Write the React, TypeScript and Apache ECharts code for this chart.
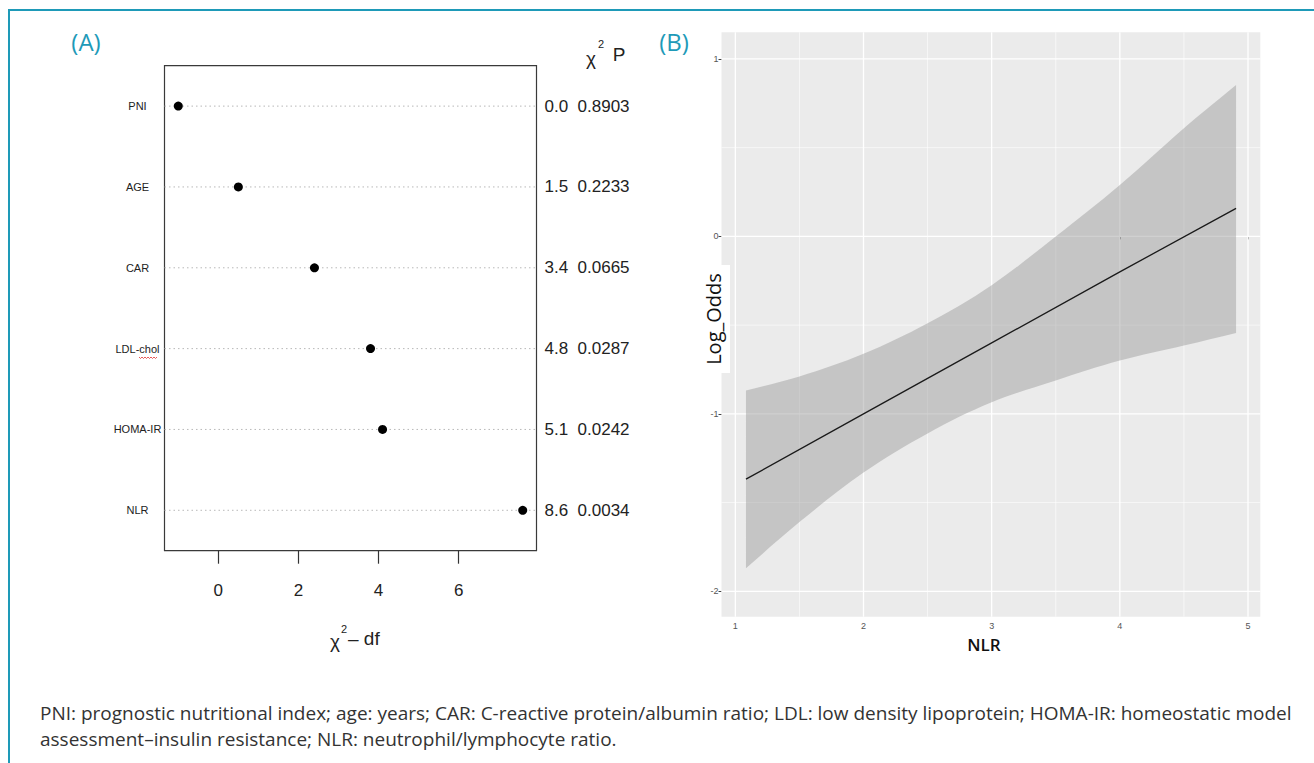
import React, { useEffect, useRef } from "react";
import * as echarts from "echarts";

// ---------- Panel A data ----------
const variables = ["PNI", "AGE", "CAR", "LDL-chol", "HOMA-IR", "NLR"];
const chiSqMinusDf = [-1.0, 0.5, 2.4, 3.8, 4.1, 7.6];
const chiSqLabels = ["0.0", "1.5", "3.4", "4.8", "5.1", "8.6"];
const pLabels = ["0.8903", "0.2233", "0.0665", "0.0287", "0.0242", "0.0034"];
const dotTicks = [0, 2, 4, 6];

// ---------- Panel B data ----------
const nlrLine = [
  [1.083, -1.368],
  [2, -1.0],
  [3, -0.6],
  [4, -0.2],
  [4.907, 0.158],
];
const bandX = [1.083, 1.5, 2, 2.5, 3, 3.5, 4, 4.5, 4.907];
const bandUpper = [-0.869, -0.79, -0.662, -0.49, -0.275, 0.0, 0.29, 0.61, 0.853];
const bandLower = [-1.87, -1.61, -1.331, -1.11, -0.935, -0.812, -0.7, -0.615, -0.544];
const nlrTicks = [1, 2, 3, 4, 5];
const nlrMinor = [1.5, 2.5, 3.5, 4.5];
const logOddsTicks = [-2, -1, 0, 1];
const logOddsMinor = [-1.5, -0.5, 0.5];

const footnote1 =
  "PNI: prognostic nutritional index; age: years; CAR: C-reactive protein/albumin ratio; LDL: low density lipoprotein; HOMA-IR: homeostatic model";
const footnote2 = "assessment–insulin resistance; NLR: neutrophil/lymphocyte ratio.";

const RFONT = "'Liberation Sans', Arial, Helvetica, sans-serif";
const SANS = "'Open Sans', 'Noto Sans', sans-serif";
const TEAL = "#1e9ab8";

export default function App() {
  const ref = useRef<HTMLDivElement>(null);

  useEffect(() => {
    if (!ref.current) return;
    const chart = echarts.init(ref.current, undefined, { renderer: "svg" });

    const aMin = -1.344;
    const aMax = 7.944;

    const vGrid = [
      ...nlrTicks.map((v) => [v, 0, 1]),
      ...nlrMinor.map((v) => [v, 0, 0]),
    ];
    const hGrid = [
      ...logOddsTicks.map((v) => [1, v, 1]),
      ...logOddsMinor.map((v) => [1, v, 0]),
    ];

    const squiggle: number[][] = [];
    for (let i = 0; i <= 12; i++) squiggle.push([139 + i * 1.5, 357 + (i % 2 === 0 ? 0 : 1.5)]);

    const option: any = {
      animation: false,
      backgroundColor: "#ffffff",
      grid: [
        { left: 164.5, top: 65.7, width: 372, height: 485, show: true, borderColor: "#3a3a3a", borderWidth: 1.2, backgroundColor: "transparent" },
        { left: 721.5, top: 32.3, width: 538.8, height: 584.4, show: true, borderWidth: 0, backgroundColor: "#ebebeb" },
      ],
      xAxis: [
        {
          type: "value",
          gridIndex: 0,
          min: aMin,
          max: aMax,
          axisLine: { show: false },
          axisTick: { show: true, customValues: dotTicks, length: 13, lineStyle: { color: "#333", width: 1.2 } },
          axisLabel: { show: true, customValues: dotTicks, margin: 31, fontFamily: RFONT, fontSize: 17, color: "#222" },
          splitLine: { show: false },
        },
        {
          type: "value",
          gridIndex: 1,
          min: 0.892,
          max: 5.096,
          axisLine: { show: false },
          axisTick: { show: true, customValues: nlrTicks, length: 3, lineStyle: { color: "#444", width: 1 } },
          axisLabel: { show: true, customValues: nlrTicks, margin: 5, fontFamily: RFONT, fontSize: 9, color: "#555" },
          splitLine: { show: false },
        },
      ],
      yAxis: [
        {
          type: "category",
          gridIndex: 0,
          data: variables,
          inverse: true,
          boundaryGap: true,
          axisLine: { show: false },
          axisTick: { show: false },
          axisLabel: { show: true, align: "center", margin: 27, fontFamily: RFONT, fontSize: 11, color: "#222" },
          splitLine: { show: false },
        },
        {
          type: "category",
          gridIndex: 0,
          position: "right",
          data: variables,
          inverse: true,
          boundaryGap: true,
          axisLine: { show: false },
          axisTick: { show: false },
          axisLabel: {
            show: true,
            align: "left",
            margin: 8,
            fontFamily: RFONT,
            fontSize: 17,
            color: "#222",
            formatter: (_v: string, i: number) => `${chiSqLabels[i]}  ${pLabels[i]}`,
          },
          splitLine: { show: false },
        },
        {
          type: "value",
          gridIndex: 1,
          min: -2.143,
          max: 1.15,
          axisLine: { show: false },
          axisTick: { show: true, customValues: logOddsTicks, length: 3, lineStyle: { color: "#444", width: 1 } },
          axisLabel: { show: true, customValues: logOddsTicks, margin: 3, fontFamily: RFONT, fontSize: 9, color: "#555" },
          splitLine: { show: false },
        },
      ],
      series: [
        // Panel A dotted guide lines
        {
          type: "custom",
          xAxisIndex: 0,
          yAxisIndex: 0,
          silent: true,
          z: 1,
          data: variables.map((v, i) => [chiSqMinusDf[i], v]),
          renderItem: (params: any, api: any) => {
            const p = api.coord([api.value(0), api.value(1)]);
            const cs = params.coordSys;
            return {
              type: "line",
              shape: { x1: cs.x, y1: p[1], x2: cs.x + cs.width, y2: p[1] },
              style: { stroke: "#b8b8b8", lineWidth: 1, lineDash: [1.5, 3] },
            };
          },
        },
        // Panel A dots
        {
          type: "scatter",
          xAxisIndex: 0,
          yAxisIndex: 0,
          symbolSize: 9,
          itemStyle: { color: "#000", opacity: 1 },
          z: 3,
          data: variables.map((v, i) => [chiSqMinusDf[i], v]),
        },
        // Panel B vertical grid lines
        {
          type: "custom",
          xAxisIndex: 1,
          yAxisIndex: 2,
          silent: true,
          z: 1,
          data: vGrid,
          renderItem: (params: any, api: any) => {
            const p = api.coord([api.value(0), 0]);
            const cs = params.coordSys;
            return {
              type: "line",
              shape: { x1: p[0], y1: cs.y, x2: p[0], y2: cs.y + cs.height },
              style: { stroke: "#ffffff", lineWidth: api.value(2) ? 1.3 : 0.6 },
            };
          },
        },
        // Panel B horizontal grid lines
        {
          type: "custom",
          xAxisIndex: 1,
          yAxisIndex: 2,
          silent: true,
          z: 1,
          data: hGrid,
          renderItem: (params: any, api: any) => {
            const p = api.coord([1, api.value(1)]);
            const cs = params.coordSys;
            return {
              type: "line",
              shape: { x1: cs.x, y1: p[1], x2: cs.x + cs.width, y2: p[1] },
              style: { stroke: "#ffffff", lineWidth: api.value(2) ? 1.3 : 0.6 },
            };
          },
        },
        // Panel B confidence band
        {
          type: "custom",
          xAxisIndex: 1,
          yAxisIndex: 2,
          silent: true,
          z: 2,
          data: bandX.map((x, i) => [x, bandLower[i], bandUpper[i]]),
          renderItem: (params: any, api: any) => {
            if (params.dataIndex !== 0) return null;
            const up = bandX.map((x, i) => api.coord([x, bandUpper[i]]));
            const lo = bandX.map((x, i) => api.coord([x, bandLower[i]])).reverse();
            // duplicate the four corners so the smoothing keeps them sharp
            const pts = [up[0], ...up, up[up.length - 1], lo[0], ...lo, lo[lo.length - 1]];
            return {
              type: "polygon",
              shape: { points: pts, smooth: 0.35 },
              style: { fill: "rgba(150,150,150,0.45)" },
            };
          },
        },
        // Panel B fitted line
        {
          type: "line",
          xAxisIndex: 1,
          yAxisIndex: 2,
          data: nlrLine,
          symbol: "none",
          z: 3,
          lineStyle: { color: "#1a1a1a", width: 1.3 },
        },
      ],
      graphic: [
        { type: "polyline", z: 50, shape: { points: [[9, 763], [9, 10], [1314, 10]] }, style: { stroke: TEAL, lineWidth: 2, fill: "none" } },
        { type: "text", z: 50, x: 86, y: 41, style: { text: "(A)", fontFamily: SANS, fontSize: 24, fill: TEAL, align: "center", verticalAlign: "middle" } },
        { type: "text", z: 50, x: 674, y: 41, style: { text: "(B)", fontFamily: SANS, fontSize: 24, fill: TEAL, align: "center", verticalAlign: "middle" } },
        // header chi^2 P
        { type: "text", z: 50, x: 596, y: 58, style: { text: "χ", fontFamily: RFONT, fontSize: 19, fill: "#222", align: "right", verticalAlign: "middle" } },
        { type: "text", z: 50, x: 598, y: 44, style: { text: "2", fontFamily: RFONT, fontSize: 11, fill: "#222", align: "left", verticalAlign: "middle" } },
        { type: "text", z: 50, x: 619, y: 54, style: { text: "P", fontFamily: RFONT, fontSize: 19, fill: "#222", align: "center", verticalAlign: "middle" } },
        // x axis title chi^2 - df
        { type: "text", z: 50, x: 340, y: 641, style: { text: "χ", fontFamily: RFONT, fontSize: 19, fill: "#222", align: "right", verticalAlign: "middle" } },
        { type: "text", z: 50, x: 341, y: 629, style: { text: "2", fontFamily: RFONT, fontSize: 11, fill: "#222", align: "left", verticalAlign: "middle" } },
        { type: "text", z: 50, x: 348, y: 638, style: { text: "– df", fontFamily: RFONT, fontSize: 19, fill: "#222", align: "left", verticalAlign: "middle" } },
        // red squiggle under "chol"
        { type: "polyline", z: 50, shape: { points: squiggle }, style: { stroke: "#e03030", lineWidth: 0.8, fill: "none" } },
        // Log_Odds label on white box
        { type: "rect", z: 40, shape: { x: 695, y: 265, width: 35, height: 108 }, style: { fill: "#ffffff" } },
        { type: "text", z: 50, x: 713, y: 319, rotation: Math.PI / 2, style: { text: "Log_Odds", fontFamily: SANS, fontSize: 20, fill: "#111", align: "center", verticalAlign: "middle" } },
        // NLR axis title
        { type: "text", z: 50, x: 984, y: 644, style: { text: "NLR", fontFamily: SANS, fontSize: 17, fontWeight: 600, fill: "#111", align: "center", verticalAlign: "middle" } },
        // Footnote
        { type: "text", z: 50, x: 40, y: 713, style: { text: footnote1, fontFamily: SANS, fontSize: 19, fill: "#333", align: "left", verticalAlign: "middle" } },
        { type: "text", z: 50, x: 40, y: 739, style: { text: footnote2, fontFamily: SANS, fontSize: 19, fill: "#333", align: "left", verticalAlign: "middle" } },
      ],
    };

    chart.setOption(option);
    return () => chart.dispose();
  }, []);

  return <div ref={ref} style={{ position: "absolute", left: 0, top: 0, width: 1314, height: 763 }} />;
}
